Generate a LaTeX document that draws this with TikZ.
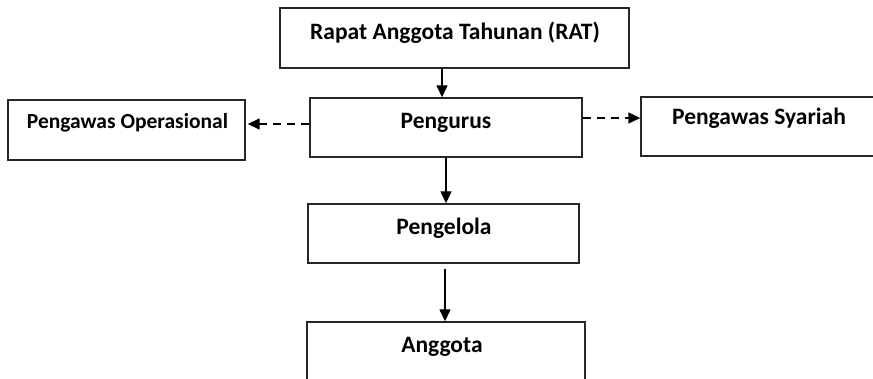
\documentclass[tikz,border=0pt]{standalone}
\usepackage{fontspec}
\setmainfont{Carlito}
\usetikzlibrary{arrows.meta}
\begin{document}
\begin{tikzpicture}[x=0.5pt,y=-0.5pt,
  box/.style={draw=black!85,line width=0.7pt,inner sep=0pt,rectangle},
  lbl/.style={font=\fontsize{11.75}{14}\selectfont\bfseries,inner sep=0pt},
  arr/.style={line width=0.7pt,-{Triangle[length=6pt,width=5.5pt]}},
  darr/.style={arr,dash pattern=on 4pt off 3pt}]
\useasboundingbox (0,0) rectangle (873,379);
% boxes
\node[box,minimum width=174.5pt,minimum height=30pt] (rat) at (454.5,38) {};
\node[box,minimum width=136pt,minimum height=29.5pt] (pg) at (446,127.5) {};
\node[box,minimum width=118.5pt,minimum height=30pt] (op) at (126.5,130) {};
\node[box,minimum width=118pt,minimum height=29.5pt] (sy) at (759,126.5) {};
\node[box,minimum width=135.5pt,minimum height=29.5pt] (pl) at (443.5,233.5) {};
\node[box,minimum width=139pt,minimum height=30pt] (ag) at (446,352) {};
% labels
\node[lbl] (trat) at (455,33) {Rapat Anggota Tahunan (RAT)};
\node[lbl] (tpg) at (446,123) {Pengurus};
\node[lbl,font=\fontsize{10.75}{13}\selectfont\bfseries] (top) at (127.5,123) {Pengawas Operasional};
\node[lbl] (tsy) at (759,118) {Pengawas Syariah};
\node[lbl] (tpl) at (444,228) {Pengelola};
\node[lbl] (tag) at (442,347) {Anggota};
% connectors
\draw[arr] ([xshift=-2pt]pg.north |- rat.south) -- ([xshift=-2pt]pg.north);
\draw[arr] (pg.south) -- (pg.south |- pl.north);
\draw[arr] ([xshift=0.75pt,yshift=-2.5pt]pl.south) -- ([xshift=0.75pt]pl.south |- ag.north);
\draw[darr] ([yshift=1.75pt]pg.west) -- ([xshift=1pt,yshift=1.75pt]pg.west -| op.east);
\draw[darr] ([yshift=4.75pt]pg.east) -- ([yshift=4.75pt]pg.east -| sy.west);
\end{tikzpicture}
\end{document}
